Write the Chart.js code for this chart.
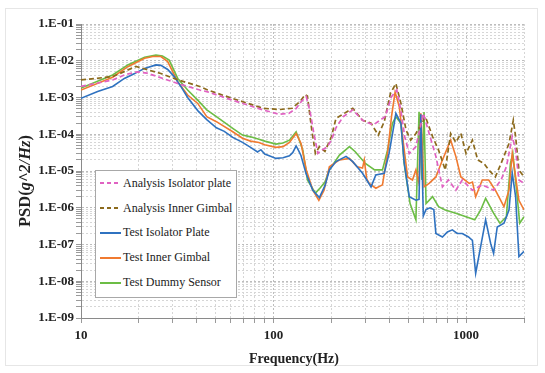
<!DOCTYPE html>
<html>
<head>
<meta charset="utf-8">
<script src="https://cdn.jsdelivr.net/npm/chart.js@4/dist/chart.umd.min.js"></script>
<style>
  html, body { margin: 0; padding: 0; background: #fff; }
  #wrap { position: relative; width: 545px; height: 373px; }
  #frame { position: absolute; left: 5px; top: 8px; width: 533px; height: 358px; border: 1px solid #e6e6e6; box-sizing: border-box; }
  #ytitle { position: absolute; left: 25px; top: 181px; transform: translate(-50%, -50%) rotate(-90deg);
            font: bold 16.5px 'Liberation Serif', serif; color: #222; white-space: nowrap; }
  #xtitle { position: absolute; left: 294px; top: 359px; transform: translate(-50%, -50%);
            font: bold 14px 'Liberation Serif', serif; color: #222; white-space: nowrap; }
  #legend { position: absolute; left: 95px; top: 170px; width: 142px; height: 128px; background: #fff;
            border: 1px solid #a8a8a8; box-sizing: border-box; font: 12px 'Liberation Serif', serif; color: #222; }
  .row { height: 24.8px; display: flex; align-items: center; white-space: nowrap; }
  .swatch { width: 21px; height: 2px; margin-left: 4px; margin-right: 2px; }
</style>
</head>
<body>
<div id="wrap">
  <div id="frame"></div>
  <canvas id="psd"></canvas>
  <div id="ytitle">PSD(<i>g^2/Hz</i>)</div>
  <div id="xtitle">Frequency(Hz)</div>
  <div id="legend"></div>
</div>
<script>
/* ─── reference data ─── */

const SERIES_NAMES = ['Analysis Isolator plate', 'Analysis Inner Gimbal', 'Test Isolator Plate', 'Test Inner Gimbal', 'Test Dummy Sensor'];

const anaIsoFreq = [10, 14.6, 17, 19.7, 22, 25, 31.8, 41.4, 45, 61, 88, 107, 120, 131, 140, 148, 155, 162, 170, 178, 190, 200, 211, 230, 258, 290, 330, 380, 410, 437, 460, 480, 507, 549, 600, 643, 697, 754, 810, 885, 956, 1079, 1214, 1390, 1520, 1620, 1738, 1809, 1882, 2000];
const anaIsoVals = [2.0e-3, 3.0e-3, 4.2e-3, 5.0e-3, 4.6e-3, 3.7e-3, 2.4e-3, 1.6e-3, 1.45e-3, 8.5e-4, 4.6e-4, 3.5e-4, 3.7e-4, 5.0e-4, 8.0e-4, 1.05e-3, 4.0e-4, 1.05e-4, 3.0e-5, 3.7e-5, 4.5e-5, 7.0e-5, 1.5e-4, 3.0e-4, 4.6e-4, 2.4e-4, 1.8e-4, 3.0e-4, 1.05e-3, 1.6e-3, 4.0e-4, 8.7e-5, 3.0e-5, 4.6e-5, 3.7e-4, 1.05e-4, 2.5e-5, 3.7e-6, 5.7e-6, 3.0e-6, 5.7e-6, 3.0e-6, 4.2e-6, 3.0e-6, 5.7e-6, 1.3e-5, 8.7e-5, 3.7e-5, 5.7e-6, 4.6e-6];

const anaGimFreq = [10, 14.6, 19.3, 26, 32, 41.4, 45.5, 61, 88, 107, 125, 138, 146, 150, 158, 165, 173, 185, 200, 211, 258, 290, 321, 350, 376, 405, 432, 459, 488, 516, 549, 590, 615, 670, 720, 780, 832, 885, 940, 1000, 1079, 1150, 1240, 1312, 1420, 1520, 1671, 1760, 1809, 1882, 2000];
const anaGimVals = [3.0e-3, 3.7e-3, 7.0e-3, 4.5e-3, 3.0e-3, 2.0e-3, 1.6e-3, 9.5e-4, 5.1e-4, 4.7e-4, 5.1e-4, 8.0e-4, 1.2e-3, 1.1e-3, 1.3e-4, 3.0e-5, 4.6e-5, 3.4e-5, 8.7e-5, 2.7e-4, 5.1e-4, 2.4e-4, 2.0e-4, 9.5e-5, 2.2e-4, 1.3e-3, 2.4e-3, 6.9e-4, 1.3e-4, 6.9e-5, 1.05e-4, 2.0e-4, 3.0e-4, 8.7e-5, 3.7e-5, 1.07e-5, 1.05e-4, 6.0e-5, 1.05e-4, 3.0e-5, 6.9e-5, 2.0e-5, 1.6e-5, 1.07e-5, 6.9e-6, 1.6e-5, 5.6e-5, 2.4e-4, 8.7e-5, 1.07e-5, 6.9e-6];

const testIsoFreq = [10, 12.2, 14.6, 16.8, 19, 21.4, 24.5, 26, 28.2, 30.5, 33, 35.8, 40.4, 45, 50.5, 55.5, 61.4, 69, 76, 82.6, 86, 90, 95, 103, 112, 121, 126, 131, 135, 139, 147.5, 160, 173, 185, 195, 211, 238, 258, 290, 321, 340, 376, 398, 420, 432, 459, 477, 507, 549, 570, 582, 600, 620, 650, 680, 697, 754, 800, 849, 900, 956, 1030, 1079, 1122, 1191, 1264, 1342, 1390, 1452, 1574, 1671, 1738, 1809, 1882, 2000];
const testIsoVals = [9.5e-4, 1.45e-3, 2.0e-3, 3.3e-3, 4.5e-3, 6.2e-3, 7.7e-3, 7.5e-3, 5.8e-3, 3.7e-3, 2.0e-3, 1.0e-3, 4.4e-4, 2.5e-4, 1.5e-4, 1.2e-4, 8.2e-5, 6.0e-5, 4.4e-5, 3.3e-5, 3.8e-5, 2.9e-5, 2.6e-5, 2.2e-5, 2.3e-5, 2.6e-5, 3.2e-5, 4.8e-5, 3.6e-5, 2.6e-5, 8.5e-6, 3.0e-6, 1.9e-6, 4.0e-6, 1.07e-5, 1.8e-5, 2.5e-5, 1.8e-5, 8.7e-6, 3.7e-6, 7.8e-6, 8.7e-6, 3.0e-5, 1.5e-4, 3.7e-4, 2.0e-4, 1.7e-5, 2.0e-6, 1.6e-6, 1.7e-6, 3.5e-4, 6.0e-7, 9.0e-7, 1.0e-6, 9.0e-7, 2.0e-7, 1.6e-7, 2.2e-7, 2.5e-7, 2.0e-7, 2.0e-7, 1.6e-7, 1.3e-7, 1.65e-8, 8.7e-8, 4.7e-7, 1.07e-7, 5.7e-8, 3.0e-7, 3.8e-7, 8.7e-7, 8.7e-6, 2.0e-6, 4.7e-8, 6.5e-8];

const testGimFreq = [10, 14.6, 17.5, 21.4, 23.6, 26, 28.2, 31.8, 35.8, 40.4, 45, 50.5, 61.4, 69, 76, 84, 90, 103, 112, 121, 131, 139, 148, 160, 172, 183, 195, 220, 248, 272, 290, 296, 305, 314, 340, 368, 391, 410, 428, 450, 468, 497, 527, 549, 570, 582, 605, 643, 697, 754, 832, 885, 940, 1038, 1080, 1122, 1214, 1312, 1420, 1574, 1671, 1738, 1809, 1882, 2000];
const testGimVals = [1.6e-3, 3.55e-3, 6.9e-3, 1.17e-2, 1.3e-2, 1.3e-2, 9.5e-3, 2.7e-3, 1.17e-3, 6.9e-4, 3.0e-4, 2.2e-4, 1.17e-4, 7.8e-5, 6.5e-5, 6.0e-5, 5.2e-5, 4.4e-5, 4.6e-5, 6.0e-5, 1.05e-4, 5.6e-5, 1.07e-5, 3.0e-6, 1.6e-6, 3.0e-6, 1.3e-5, 2.0e-5, 2.2e-5, 1.3e-5, 1.2e-5, 2.0e-5, 6.0e-6, 4.6e-6, 3.4e-6, 4.2e-6, 3.0e-5, 3.0e-4, 1.4e-3, 5.6e-4, 8.7e-5, 6.9e-6, 5.7e-6, 1.07e-5, 4.6e-6, 3.7e-4, 3.7e-6, 4.6e-6, 6.9e-6, 2.0e-5, 6.9e-5, 2.5e-5, 6.9e-6, 4.6e-6, 5.0e-6, 2.0e-6, 5.7e-6, 5.7e-6, 3.0e-6, 1.07e-6, 3.0e-6, 3.0e-5, 6.9e-6, 1.6e-6, 8.7e-7];

const testDumFreq = [10, 14.6, 17.5, 21.4, 24.5, 26.5, 28.7, 31.8, 35.8, 40.4, 45, 50.5, 61.4, 69, 76, 84, 90, 103, 112, 121, 131, 136, 142, 150, 165, 175, 185, 195, 220, 248, 265, 300, 335, 368, 391, 415, 432, 459, 477, 512, 549, 570, 590, 605, 620, 670, 720, 780, 885, 1000, 1110, 1191, 1264, 1390, 1500, 1620, 1700, 1750, 1830, 1900, 2000];
const testDumVals = [1.8e-3, 4.1e-3, 7.7e-3, 1.24e-2, 1.43e-2, 1.35e-2, 1.05e-2, 3.3e-3, 1.6e-3, 8.5e-4, 4.6e-4, 3.0e-4, 1.45e-4, 9.5e-5, 8.5e-5, 7.3e-5, 6.5e-5, 5.4e-5, 5.8e-5, 6.9e-5, 1.17e-4, 7.0e-5, 3.7e-5, 5.7e-6, 2.5e-6, 3.5e-6, 5.0e-6, 1.07e-5, 2.7e-5, 4.6e-5, 3.4e-5, 1.6e-5, 1.07e-5, 1.07e-5, 3.7e-5, 2.0e-4, 3.0e-4, 2.0e-4, 1.6e-5, 1.3e-6, 4.7e-7, 4.1e-4, 5.7e-6, 4.0e-4, 1.3e-6, 2.0e-6, 1.07e-6, 8.7e-7, 7.1e-7, 5.7e-7, 4.7e-7, 8.7e-7, 1.8e-6, 7.1e-7, 3.8e-7, 5.7e-7, 1.6e-5, 3.0e-5, 3.0e-6, 3.8e-7, 5.7e-7];

const xTickVals = [10, 20, 30, 40, 50, 60, 70, 80, 90, 100, 200, 300, 400, 500, 600, 700, 800, 900, 1000, 2000];
const yDecades = [-9, -8, -7, -6, -5, -4, -3, -2, -1];

/* ─── styling ─── */
const COLORS = ['#e062c2', '#8c6a1c', '#2f72c0', '#f07a30', '#6cbd45'];
const DASHED = [true, true, false, false, false];

const FONT = 'Liberation Serif';

function toPoints(freq, vals) {
    return freq.map((f, i) => ({ x: f, y: vals[i] }));
}

function isDecade(v) {
    const l = Math.log10(v);
    return Math.abs(l - Math.round(l)) < 1e-9;
}

const yTickVals = [];
for (const e of yDecades) {
    for (let m = 1; m <= 9; m++) {
        if (e === -1 && m > 1) break;
        yTickVals.push(+(m + 'e' + e));
    }
}

const seriesData = [
    toPoints(anaIsoFreq, anaIsoVals),
    toPoints(anaGimFreq, anaGimVals),
    toPoints(testIsoFreq, testIsoVals),
    toPoints(testGimFreq, testGimVals),
    toPoints(testDumFreq, testDumVals),
];

const datasets = seriesData.map((d, i) => ({
    label: SERIES_NAMES[i],
    data: d,
    borderColor: COLORS[i],
    backgroundColor: COLORS[i],
    borderWidth: DASHED[i] ? 1.7 : 1.6,
    borderDash: DASHED[i] ? [5, 3] : [],
    pointRadius: 0,
    tension: 0,
    fill: false,
}));

const gridColor = (ctx) => (ctx.tick && isDecade(ctx.tick.value)) ? '#bdbdbd' : '#d6d6d6';

new Chart(document.getElementById('psd'), {
    type: 'line',
    data: { datasets },
    options: {
        animation: false,
        responsive: true,
        maintainAspectRatio: false,
        devicePixelRatio: 1,
        layout: { padding: { top: 24, right: 21, bottom: 0, left: 0 } },
        plugins: {
            legend: { display: false },
            tooltip: { enabled: false },
        },
        scales: {
            x: {
                type: 'logarithmic',
                min: 10,
                max: 2000,
                afterBuildTicks: (scale) => { scale.ticks = xTickVals.map(v => ({ value: v })); },
                afterFit: (scale) => { scale.height = 55; },
                ticks: {
                    autoSkip: false,
                    maxRotation: 0,
                    padding: 5,
                    color: '#222',
                    font: { family: FONT, size: 13, weight: 'bold' },
                    callback: (v) => isDecade(v) ? String(v) : '',
                },
                grid: { color: gridColor, tickColor: '#9a9a9a', tickLength: 5, tickBorderDash: [] },
                border: { color: '#8a8a8a', width: 1, dash: [2, 2] },
            },
            y: {
                type: 'logarithmic',
                min: 1e-9,
                max: 1e-1,
                afterBuildTicks: (scale) => { scale.ticks = yTickVals.map(v => ({ value: v })); },
                afterFit: (scale) => { scale.width = 81; },
                ticks: {
                    autoSkip: false,
                    padding: 2,
                    color: '#222',
                    font: { family: FONT, size: 13, weight: 'bold' },
                    callback: (v) => {
                        if (!isDecade(v)) return '';
                        const e = Math.round(Math.log10(v));
                        return '1.E-' + String(-e).padStart(2, '0');
                    },
                },
                grid: { color: gridColor, tickColor: '#9a9a9a', tickLength: 5, tickBorderDash: [] },
                border: { color: '#8a8a8a', width: 1, dash: [2, 2] },
            },
        },
    },
});

/* legend drawn as html inside the plot area */
const legendEl = document.getElementById('legend');
SERIES_NAMES.forEach((name, i) => {
    const row = document.createElement('div');
    row.className = 'row';
    const sw = document.createElement('span');
    sw.className = 'swatch';
    sw.style.background = DASHED[i]
        ? `repeating-linear-gradient(90deg, ${COLORS[i]} 0 4px, transparent 4px 7px)`
        : COLORS[i];
    row.appendChild(sw);
    const txt = document.createElement('span');
    txt.textContent = name;
    row.appendChild(txt);
    legendEl.appendChild(row);
});
</script>
</body>
</html>
